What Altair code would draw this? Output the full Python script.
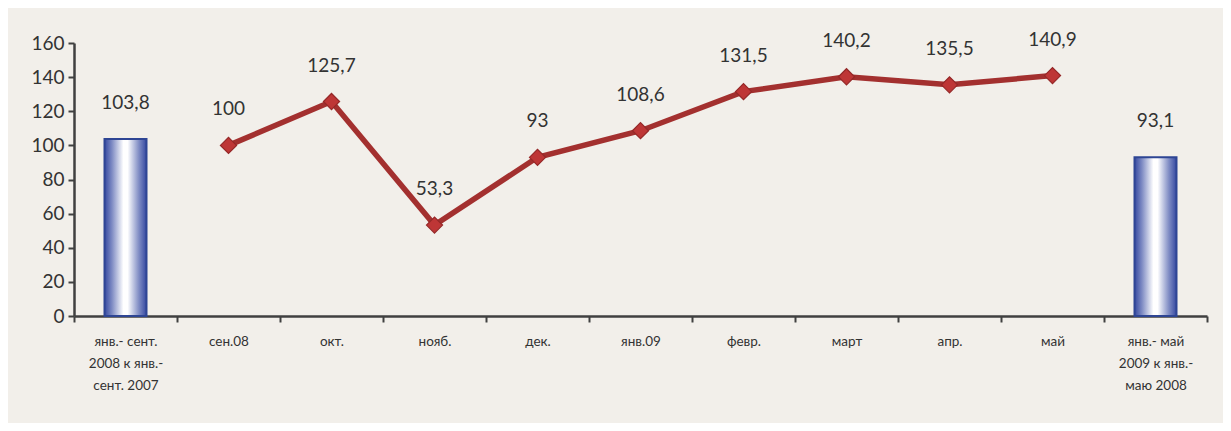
import altair as alt
import pandas as pd

categories = [
    "янв.- сент.|2008  к янв.-|сент. 2007",
    "сен.08", "окт.", "нояб.", "дек.", "янв.09", "февр.", "март", "апр.", "май",
    "янв.- май|2009  к янв.-|маю 2008",
]
values = [103.8, 100, 125.7, 53.3, 93, 108.6, 131.5, 140.2, 135.5, 140.9, 93.1]
kinds = ["bar", "line", "line", "line", "line", "line", "line", "line", "line", "line", "bar"]


def fmt(v):
    s = ("%.1f" % v).rstrip("0").rstrip(".")
    return s.replace(".", ",")


df = pd.DataFrame({
    "cat": categories,
    "val": values,
    "kind": kinds,
    "label": [fmt(v) for v in values],
})

FONT = "Lato"
TXT = "#333333"

x = alt.X("cat:N", sort=categories, title=None,
          scale=alt.Scale(paddingInner=0, paddingOuter=0),
          axis=alt.Axis(labelAngle=0, labelExpr="split(datum.label, '|')",
                        labelFont=FONT, labelFontSize=13.5, labelColor=TXT,
                        labelLineHeight=22, labelPadding=12, labelBaseline="top",
                        tickBand="extent", tickSize=6, tickColor="#404040", tickWidth=2,
                        domainColor="#404040", domainWidth=2.5, grid=False))
y = alt.Y("val:Q", title=None,
          scale=alt.Scale(domain=[0, 160], nice=False),
          axis=alt.Axis(values=list(range(0, 161, 20)), labelFont=FONT, labelFontSize=19,
                        labelColor=TXT, labelPadding=4, tickSize=6, tickColor="#404040",
                        tickWidth=2, domainColor="#404040", domainWidth=2.5, grid=False))

base = alt.Chart(df).encode(x=x, y=y)

grad = alt.Gradient(
    gradient="linear",
    stops=[
        alt.GradientStop(color="#3548A0", offset=0),
        alt.GradientStop(color="#7F8CC4", offset=0.18),
        alt.GradientStop(color="#FFFFFF", offset=0.45),
        alt.GradientStop(color="#FFFFFF", offset=0.55),
        alt.GradientStop(color="#7F8CC4", offset=0.82),
        alt.GradientStop(color="#3548A0", offset=1),
    ],
    x1=0, x2=1, y1=0, y2=0,
)

bars = base.transform_filter(alt.datum.kind == "bar").mark_bar(
    size=42, fill=grad, stroke="#2E4594", strokeWidth=2
)

line = base.transform_filter(alt.datum.kind == "line").mark_line(
    color="#A3302F", strokeWidth=5.5
)
points = base.transform_filter(alt.datum.kind == "line").mark_point(
    shape="diamond", filled=True, size=260, color="#BE3636", stroke="#952828", strokeWidth=1.2, opacity=1
)

labels = base.mark_text(dy=-36, font=FONT, fontSize=19, color=TXT).encode(text="label:N")

chart = alt.layer(bars, line, points, labels).properties(
    width=1133, height=273,
    background="#F2EFEA",
    padding={"left": 66, "top": 35, "right": 16, "bottom": 107},
    autosize=alt.AutoSizeParams(type="none"),
).configure_view(stroke=None)

chart.save("out.html", embed_options={"renderer": "svg", "actions": False})
